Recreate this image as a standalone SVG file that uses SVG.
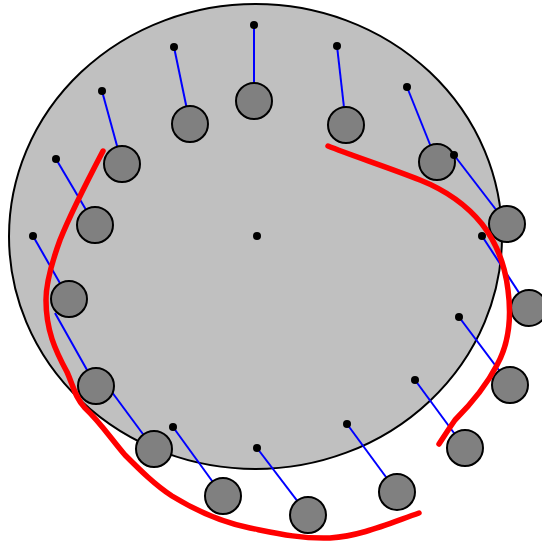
<svg xmlns="http://www.w3.org/2000/svg" width="542" height="545" viewBox="0 0 542 545">
<style>
.link{stroke:#0000ff;stroke-width:2;fill:none}
.dot{fill:#000}
.node{fill:#808080;stroke:#000;stroke-width:2}
.red{fill:none;stroke:#ff0000;stroke-width:5.5;stroke-linecap:round;stroke-linejoin:round}
</style>
<rect width="542" height="545" fill="#ffffff"/>
<g id="disk"><ellipse cx="255.5" cy="236.5" rx="246.5" ry="232.5" fill="#c0c0c0" stroke="#000" stroke-width="2"/><circle class="dot" cx="257" cy="236" r="4"/></g>
<g id="connectors">
<line class="link" x1="254" y1="25" x2="254" y2="101"/>
<line class="link" x1="337" y1="46" x2="346" y2="125"/>
<line class="link" x1="407" y1="87" x2="437" y2="162"/>
<line class="link" x1="454" y1="155" x2="507" y2="224"/>
<line class="link" x1="482" y1="236" x2="529" y2="308"/>
<line class="link" x1="459" y1="317" x2="510" y2="385"/>
<line class="link" x1="415" y1="380" x2="465" y2="448"/>
<line class="link" x1="347" y1="424" x2="397" y2="492"/>
<line class="link" x1="257" y1="448" x2="308" y2="515"/>
<line class="link" x1="173" y1="427" x2="223" y2="496"/>
<line class="link" x1="103" y1="380" x2="154" y2="449"/>
<line class="link" x1="55" y1="313" x2="96" y2="386"/>
<line class="link" x1="33" y1="236" x2="69" y2="299"/>
<line class="link" x1="56" y1="159" x2="95" y2="225"/>
<line class="link" x1="102" y1="91" x2="122" y2="164"/>
<line class="link" x1="174" y1="47" x2="190" y2="124"/>
</g>
<g id="n0"><circle class="node" cx="254" cy="101" r="18"/><circle class="dot" cx="254" cy="25" r="4"/></g>
<g id="n1"><circle class="node" cx="346" cy="125" r="18"/><circle class="dot" cx="337" cy="46" r="4"/></g>
<g id="n2"><circle class="node" cx="437" cy="162" r="18"/></g>
<g id="n3"><circle class="node" cx="507" cy="224" r="18"/><circle class="dot" cx="454" cy="155" r="4"/></g>
<g id="n4"><circle class="node" cx="529" cy="308" r="18"/><circle class="dot" cx="482" cy="236" r="4"/></g>
<g id="n5"><circle class="node" cx="510" cy="385" r="18"/><circle class="dot" cx="459" cy="317" r="4"/></g>
<g id="n6"><circle class="node" cx="465" cy="448" r="18"/><circle class="dot" cx="415" cy="380" r="4"/></g>
<g id="n7"><circle class="node" cx="397" cy="492" r="18"/><circle class="dot" cx="347" cy="424" r="4"/></g>
<g id="n8"><circle class="node" cx="308" cy="515" r="18"/><circle class="dot" cx="257" cy="448" r="4"/></g>
<g id="n9"><circle class="node" cx="223" cy="496" r="18"/><circle class="dot" cx="173" cy="427" r="4"/></g>
<g id="n10"><circle class="node" cx="154" cy="449" r="18"/></g>
<g id="n11"><circle class="node" cx="96" cy="386" r="18"/></g>
<g id="n12"><circle class="node" cx="69" cy="299" r="18"/><circle class="dot" cx="33" cy="236" r="4"/></g>
<g id="n13"><circle class="node" cx="95" cy="225" r="18"/><circle class="dot" cx="56" cy="159" r="4"/></g>
<g id="n14"><circle class="node" cx="122" cy="164" r="18"/><circle class="dot" cx="102" cy="91" r="4"/></g>
<g id="n15"><circle class="node" cx="190" cy="124" r="18"/><circle class="dot" cx="174" cy="47" r="4"/></g>
<g id="n2dot"><circle class="dot" cx="407" cy="87" r="4"/></g>
<g id="curves">
<path class="red" d="M103,151 C92,172 70,215 60,240 C52,262 46,285 46,300 C46,330 55,350 67,372 C73,385 75,398 85,408 C100,422 112,440 125,455 C140,470 155,485 172,496 C195,510 220,522 250,528 C275,533 300,539 330,538 C360,536 385,525 419,513"/>
<path class="red" d="M328,146 C350,155 390,168 420,180 C445,190 465,203 482,224 C496,242 505,265 508,290 C512,320 508,345 497,365 C485,388 470,405 455,420 C448,430 443,438 439,444"/>
</g>
</svg>
